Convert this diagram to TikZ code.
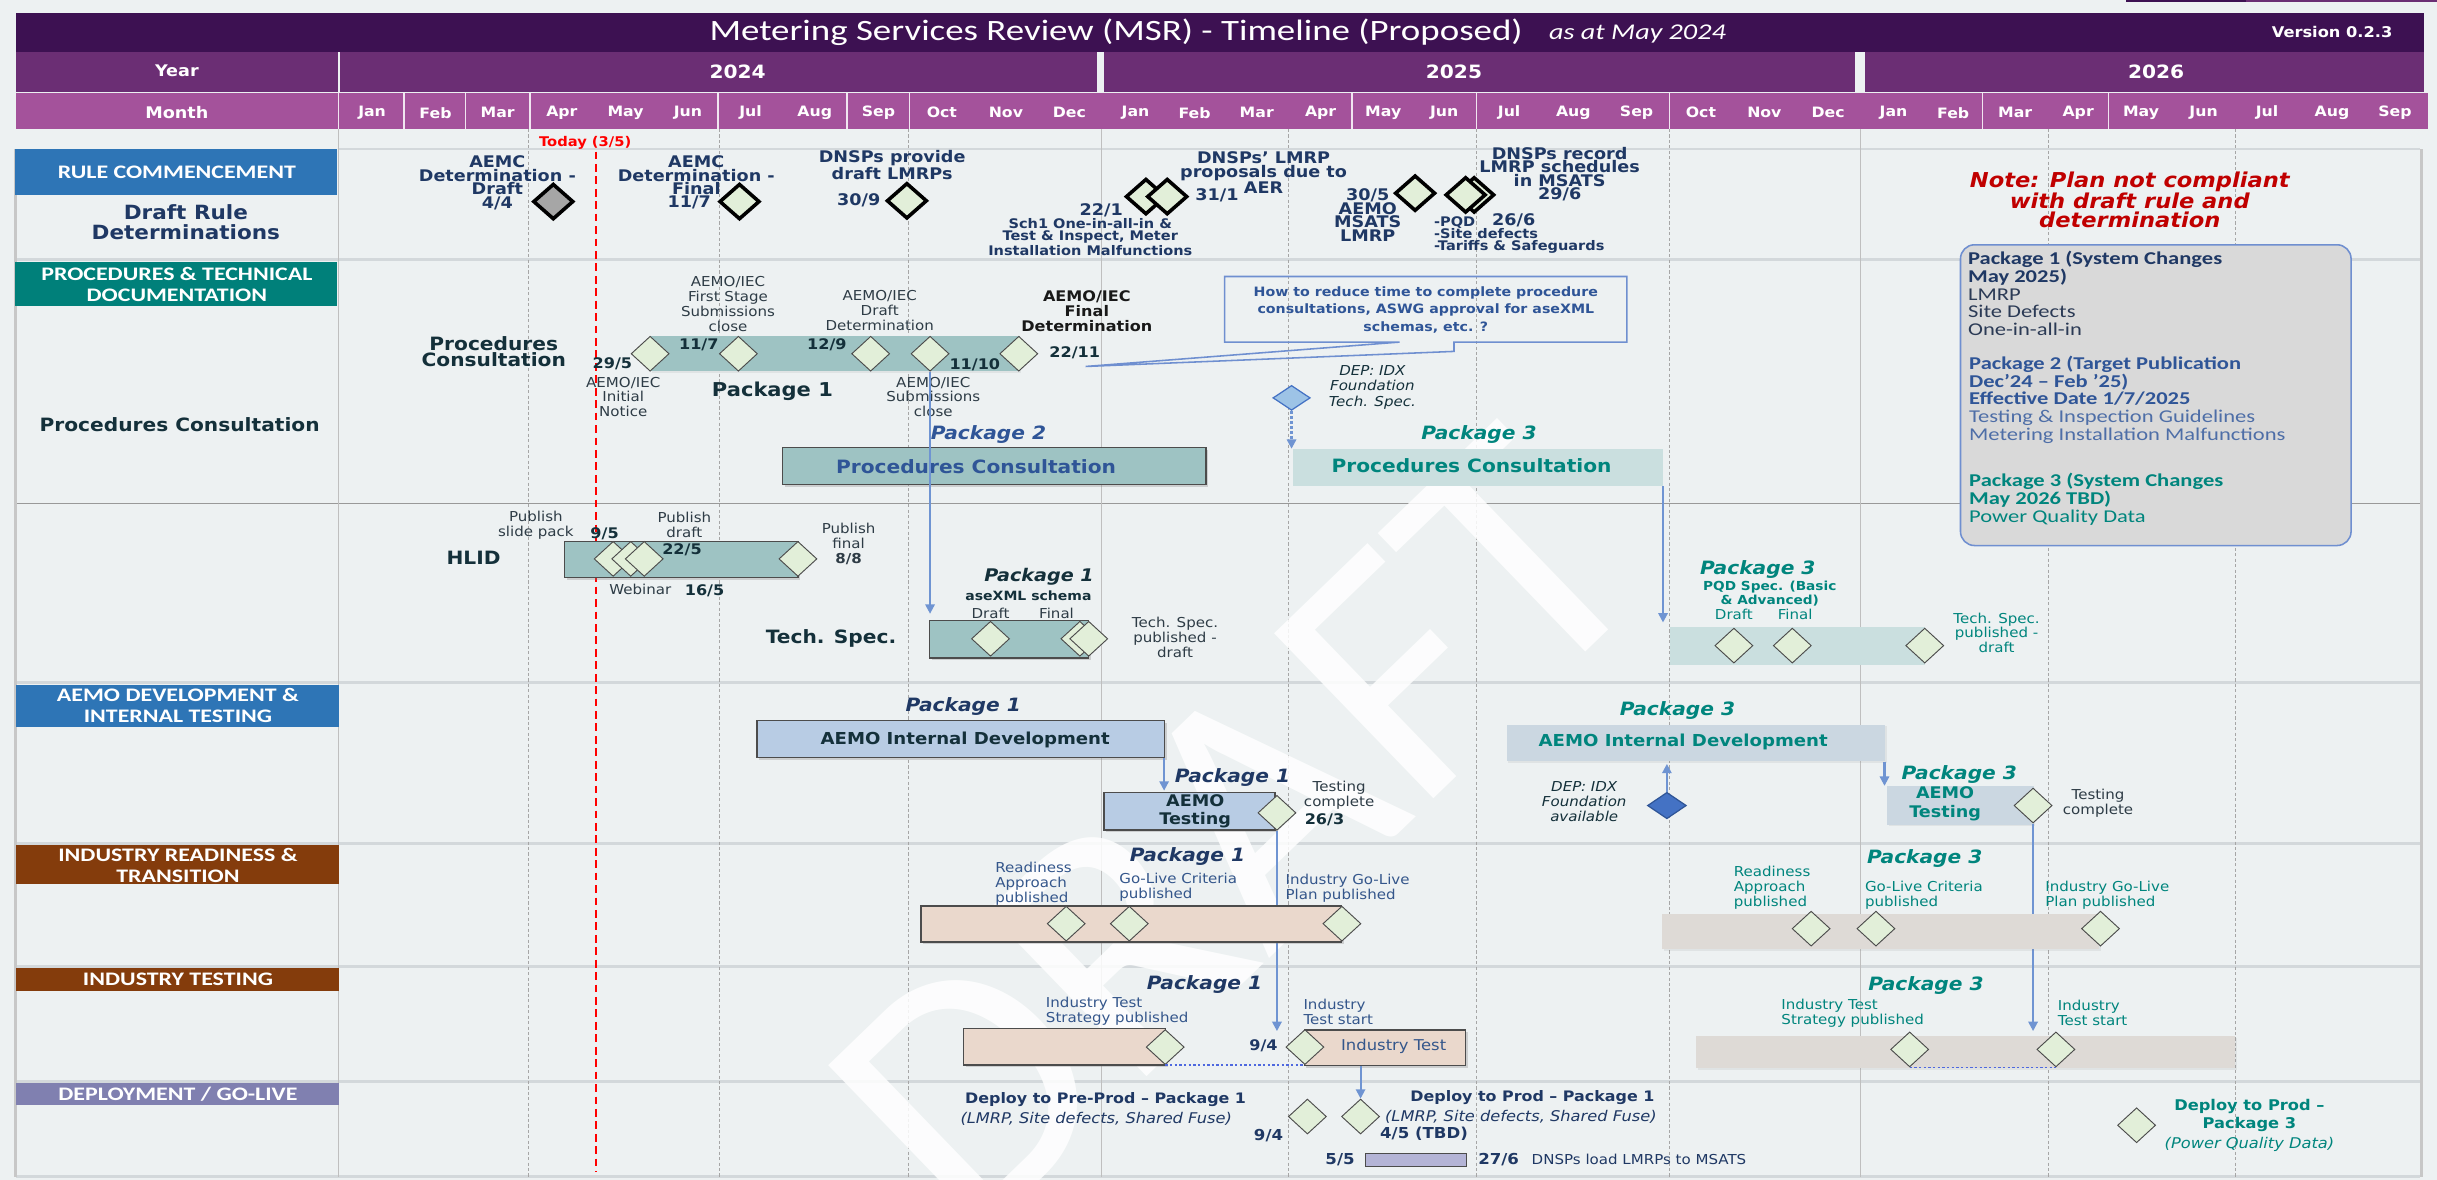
\documentclass[tikz,border=0pt]{standalone}
\usepackage{fontspec}
\setmainfont{DejaVu Sans}
\newfontfamily\tah{DejaVu Sans}[FakeStretch=1.1]
\newfontfamily\clb{Carlito}[FakeStretch=1.25]
\newfontfamily\carl{Carlito}
\usetikzlibrary{shapes.geometric,arrows.meta,shadows}
\newcommand\fsz[2]{\fontsize{#1}{#2}\selectfont}
\definecolor{bg}{HTML}{EDF1F2}
\definecolor{titlec}{HTML}{3D1152}
\definecolor{yearc}{HTML}{6B2E74}
\definecolor{monthc}{HTML}{A4529B}
\definecolor{rcblue}{HTML}{2E75B6}
\definecolor{tealh}{HTML}{00807A}
\definecolor{brownh}{HTML}{843C0C}
\definecolor{deph}{HTML}{8080B0}
\definecolor{navy}{HTML}{1F3864}
\definecolor{dk}{HTML}{14303A}
\definecolor{lblc}{HTML}{2E3C46}
\definecolor{msfill}{HTML}{E2EFD9}
\definecolor{barteal}{HTML}{9EC3C3}
\definecolor{barteal3}{HTML}{CADFDF}
\definecolor{barblue}{HTML}{B8CCE4}
\definecolor{barblue3}{HTML}{CBD7E1}
\definecolor{peach}{HTML}{EAD8CC}
\definecolor{beige3}{HTML}{DEDAD6}
\definecolor{arrowc}{HTML}{6F94D2}
\definecolor{pkgblue}{HTML}{2F5597}
\definecolor{steel}{HTML}{34568B}
\definecolor{tealt}{HTML}{00857D}
\definecolor{notered}{HTML}{C00000}
\definecolor{lav}{HTML}{B4B4D6}
\definecolor{sepc}{HTML}{D3D8DB}
\definecolor{boxgray}{HTML}{D9D9D9}
\definecolor{boxborder}{HTML}{6F8FD0}
\definecolor{depblue}{HTML}{9DC3E6}
\definecolor{depdark}{HTML}{4472C4}
\definecolor{regtxt}{HTML}{2B3A55}
\begin{document}
\begin{tikzpicture}[x=1pt,y=-1pt,
 tx/.style={inner sep=0pt, outer sep=0pt, align=center},
 hdr/.style={tx, text=white, font=\clb\bfseries\fsz{12.3}{13.3}},
 mon/.style={tx, text=white, font=\tah\bfseries\fsz{9.2}{9.5}},
 yr/.style={tx, text=white, font=\tah\bfseries\fsz{11.8}{12}},
 rc/.style={tx, text=navy, font=\tah\bfseries\fsz{10.3}{8.7}},
 rcs/.style={tx, text=navy, font=\tah\bfseries\fsz{8.5}{7.9}},
 lab/.style={tx, text=lblc, font=\tah\fsz{8.8}{9.6}},
 dte/.style={tx, text=dk, font=\tah\bfseries\fsz{9.4}{9.8}},
 bigl/.style={tx, text=dk, font=\tah\bfseries\fsz{11.8}{10.7}},
 pkg/.style={tx, font=\tah\bfseries\itshape\fsz{11.8}{12}},
 stl/.style={tx, text=steel, font=\tah\fsz{8.8}{9.6}, align=left, anchor=west},
 ms/.style={diamond, draw=black!70, line width=0.6pt, fill=msfill, minimum width=24.5pt, minimum height=22.5pt, inner sep=0pt},
 msb/.style={ms, draw=black, line width=2.3pt, minimum width=26pt, minimum height=23pt},
 barP/.style n args={3}{rectangle, fill=#1, minimum width=#2, minimum height=#3, inner sep=0pt},
 brd/.style={draw=black!70, line width=0.8pt, drop shadow={shadow xshift=1.5pt, shadow yshift=-1.5pt, opacity=0.3}},
 soft/.style={drop shadow={shadow xshift=1.2pt, shadow yshift=-1.2pt, opacity=0.12}},
 arr/.style={draw=arrowc, line width=1.3pt, -{Triangle[length=6pt,width=6pt]}},
 dott/.style={draw=arrowc!70!blue, line width=1pt, dash pattern=on 1.5pt off 1.5pt},
 gridd/.style={draw=black!35, line width=0.5pt, dash pattern=on 2pt off 1.5pt},
 grids/.style={draw=black!25, line width=0.8pt},
 sepl/.style={draw=sepc, line width=2pt},
]
\useasboundingbox (0,0) rectangle (1568,759);
\fill[bg] (0,0) rectangle (1568,759);
\fill[titlec] (1367.7,0) rectangle (1445,1.2);
\fill[yearc] (1445,0) rectangle (1568,1.2);
% ---------- header ----------
\fill[titlec] (10,8.1) rectangle (1559.7,33.2);
\fill[yearc] (10,33.6) rectangle (217.3,59);
\fill[yearc] (218.7,33.6) rectangle (706,59);
\fill[yearc] (710.5,33.6) rectangle (1193.5,59);
\fill[yearc] (1199.7,33.6) rectangle (1559.7,59);
\fill[monthc] (10,60) rectangle (1562,83);
\foreach \x in {217.8,260,299.6,341,462,545,585,870,950,1074,1275.5,1356.5}
  \draw[white!85!monthc, line width=0.9pt] (\x,60) -- (\x,83);
\node[tx, text=white, font=\clb\fsz{19}{20}, anchor=west] (title) at (456.5,20.8) {Metering Services Review (MSR) - Timeline (Proposed)};
\node[tx, text=white, font=\clb\itshape\fsz{14.5}{15}, anchor=west] (subt) at (996.7,21.6) {as at May 2024};
\node[tx, text=white, font=\tah\bfseries\fsz{9.5}{10}] (ver) at (1500.5,20.8) {Version 0.2.3};
\node[yr, font=\tah\bfseries\fsz{10.3}{11}] (year) at (113.8,45.4) {Year};
\node[yr] (y24) at (474.6,46) {2024};
\node[yr] (y25) at (935.5,46) {2025};
\node[yr] (y26) at (1387.3,46) {2026};
\node[yr, font=\tah\bfseries\fsz{10.3}{11}] (month) at (113.8,72.5) {Month};
\foreach \m/\x [count=\i] in {Jan/239.4,Feb/280.2,Mar/320.2,Apr/361.5,May/402.5,Jun/442.6,Jul/482.9,Aug/524.2,Sep/565.2,Oct/606,Nov/647.2,Dec/688,Jan/730.6,Feb/768.6,Mar/808.6,Apr/849.7,May/890,Jun/929.2,Jul/971,Aug/1012.3,Sep/1053,Oct/1094.4,Nov/1135.2,Dec/1176.2,Jan/1218.3,Feb/1256.7,Mar/1296.6,Apr/1337.1,May/1377.6,Jun/1417.8,Jul/1458.6,Aug/1500.4,Sep/1540.9}
  \node[mon] (mo\i) at (\x,72.5) {\m};
% ---------- grid ----------
\draw[sepc, line width=1pt] (218,96) -- (1557,96);
\foreach \y in {167,439,542.8,621.6,696,757} \draw[sepl] (10,\y) -- (1557,\y);
\draw[black!40, line width=0.8pt] (10,324) -- (1557,324);
\foreach \x in {340,462.6,584.5,829,950,1074,1317.8,1438.4} \draw[gridd] (\x,83) -- (\x,757);
\foreach \x in {218,708.6,1197.2} \draw[grids] (\x,83) -- (\x,757);
\draw[black!22, line width=2pt] (10,96) -- (10,757);
\draw[black!22, line width=2.5pt] (1558,96) -- (1558,757);
% watermark
\node[tx, rotate=44, text=white, opacity=0.85, font=\carl\fsz{230}{230}] (wm) at (795,535) {DRAFT};
% ---------- left headers ----------
\fill[rcblue] (9.5,96) rectangle (217,125.5);
\node[hdr] (h1) at (113.8,110.8) {RULE COMMENCEMENT};
\node[tx, text=navy, font=\tah\bfseries\fsz{12.6}{13.1}] (h1s) at (119.6,142.8) {Draft Rule\\Determinations};
\fill[tealh] (9.5,168.6) rectangle (217,197.2);
\node[hdr] (h2) at (113.8,182.9) {PROCEDURES \& TECHNICAL\\DOCUMENTATION};
\node[bigl] (h2s) at (115.6,273.3) {Procedures Consultation};
\fill[rcblue] (10,440.5) rectangle (218,467.5);
\node[hdr] (h3) at (114.5,453.9) {AEMO DEVELOPMENT \&\\INTERNAL TESTING};
\fill[brownh] (10,544) rectangle (218,569);
\node[hdr] (h4) at (114.5,556.8) {INDUSTRY READINESS \&\\TRANSITION};
\fill[brownh] (10,622.5) rectangle (218,637.8);
\node[hdr] (h5) at (114.5,630.1) {INDUSTRY TESTING};
\fill[deph] (10,697) rectangle (218,711);
\node[hdr] (h6) at (114.5,704.1) {DEPLOYMENT / GO-LIVE};
% ---------- today ----------
\draw[red, line width=1pt, dash pattern=on 5pt off 3pt] (383.5,97.5) -- (383.5,754);
\node[tx, text=red, font=\tah\bfseries\fsz{8.6}{9}] (today) at (376.5,92) {Today (3/5)};
% ---------- section 1 ----------
\node[msb, fill=black!35] (r1) at (356,129.7) {};
\node[msb] (r2) at (475.8,129.7) {};
\node[msb] (r3) at (583.5,129.2) {};
\node[msb] (r4a) at (737.3,126.5) {};
\node[msb] (r4b) at (751,126.5) {};
\node[msb] (r5) at (910.5,124.3) {};
\node[msb] (r6b) at (948.5,125.4) {};
\node[msb] (r6a) at (943,125.4) {};
\node[rc] (rt1) at (320,117.5) {AEMC\\Determination -\\Draft\\4/4};
\node[rc] (rt2) at (448,112.8) {AEMC\\Determination -\\Final};
\node[rc] (rt2d) at (443.5,130.5) {11/7};
\node[rc] (rt3) at (574,106.3) {DNSPs provide\\draft LMRPs};
\node[rc] (rt3d) at (552.5,128.6) {30/9};
\node[rc] (rt4d) at (708.6,135.5) {22/1};
\node[rcs] (rt4) at (701.5,152.5) {Sch1 One-in-all-in \&\\Test \& Inspect, Meter\\Installation Malfunctions};
\node[rc] (rt5) at (813,111.2) {DNSPs’ LMRP\\proposals due to\\AER};
\node[rc] (rt5d) at (783,125.5) {31/1};
\node[rc] (rt6d) at (880,125.4) {30/5};
\node[rc] (rt6) at (880,142.8) {AEMO\\MSATS\\LMRP};
\node[rc] (rt7) at (1003.5,112) {DNSPs record\\LMRP schedules\\in MSATS\\29/6};
\node[rc] (rt7d) at (974,142) {26/6};
\node[rcs, align=left, anchor=west] (rt8) at (922.7,151.3) {-PQD\\-Site defects\\-Tariffs \& Safeguards};
\node[tx, text=notered, font=\tah\bfseries\itshape\fsz{13.2}{12}] (note) at (1370.3,128.4) {Note: Plan not compliant\\with draft rule and\\determination};
% package box
\node[rectangle, rounded corners=9pt, fill=boxgray, draw=boxborder, line width=1pt, minimum width=251.3, minimum height=193.5, inner sep=0pt] (pbox) at (1387.05,254.25) {};
\node[tx, align=left, anchor=west, font=\clb\fsz{11.6}{11.4}, text=regtxt] (pb1) at (1266.3,188.8) {\textcolor{navy}{\bfseries Package 1 (System Changes}\\\textcolor{navy}{\bfseries May 2025)}\\LMRP\\Site Defects\\One-in-all-in};
\node[tx, align=left, anchor=west, font=\clb\fsz{11.6}{11.4}, text=pkgblue!85!white] (pb2) at (1267,257.1) {\textcolor{pkgblue}{\bfseries Package 2 (Target Publication}\\\textcolor{pkgblue}{\bfseries Dec’24 – Feb ’25)}\\\textcolor{pkgblue}{\bfseries Effective Date 1/7/2025}\\Testing \& Inspection Guidelines\\Metering Installation Malfunctions};
\node[tx, align=left, anchor=west, font=\clb\fsz{11.6}{11.4}, text=tealt] (pb3) at (1267,321.2) {{\bfseries Package 3 (System Changes}\\{\bfseries May 2026 TBD)}\\Power Quality Data};
% ---------- section 2 ----------
\node[bigl] (pcl) at (317.7,226.2) {Procedures\\Consultation};
\node[barP={barteal}{238}{23}, soft] (pc1) at (537,227.5) {};
\node[ms] (pd1) at (418.3,227.6) {};
\node[ms] (pd2) at (475.1,227.6) {};
\node[ms] (pd3) at (560.2,227.6) {};
\node[ms] (pd4) at (598.4,227.6) {};
\node[ms] (pd5) at (655.5,227.6) {};
\node[dte] (pt1d) at (394,234) {29/5};
\node[lab] (pt1) at (401,255.4) {AEMO/IEC\\Initial\\Notice};
\node[lab] (pt2) at (468.4,195.5) {AEMO/IEC\\First Stage\\Submissions\\close};
\node[dte] (pt2d) at (449.6,221.8) {11/7};
\node[lab] (pt3) at (566,199.6) {AEMO/IEC\\Draft\\Determination};
\node[dte] (pt3d) at (532,221.8) {12/9};
\node[dte] (pt4d) at (627.2,234.7) {11/10};
\node[lab] (pt4) at (600.5,255.4) {AEMO/IEC\\Submissions\\close};
\node[dte, text=black!90] (pt5) at (699.3,200.2) {AEMO/IEC\\Final\\Determination};
\node[dte] (pt5d) at (691.5,226.8) {22/11};
\node[bigl, font=\tah\bfseries\fsz{12.3}{12}] (pk1a) at (497,251.9) {Package 1};
% callout
\draw[boxborder, line width=1pt] (787.9,177.9) -- (1046.8,177.9) -- (1046.8,220.1) -- (935.5,220.1) -- (935.5,226.1) -- (698.5,235.8) -- (900.5,220.1) -- (787.9,220.1) -- cycle;
\node[tx, text=pkgblue, font=\tah\bfseries\fsz{8.3}{11.3}] (callout) at (917.4,199.3) {How to reduce time to complete procedure\\consultations, ASWG approval for aseXML\\schemas, etc. ?};
\node[diamond, fill=depblue, draw=depdark, line width=0.8pt, minimum width=24pt, minimum height=16pt, inner sep=0pt] (dep1) at (831,256) {};
\node[tx, text=dk, font=\tah\itshape\fsz{8.8}{10}] (dep1t) at (883,249) {DEP: IDX\\Foundation\\Tech. Spec.};
\node[barP={barteal}{272.6}{24.1}, brd] (pc2) at (639.7,299.85) {};
\node[tx, text=pkgblue, font=\tah\bfseries\fsz{11.8}{12}] (pc2t) at (628,300) {Procedures Consultation};
\node[pkg, text=pkgblue] (pk2) at (636,279.7) {Package 2};
\node[barP={barteal3}{238.1}{23.6}] (pc3) at (950.75,300.7) {};
\node[tx, text=tealt, font=\tah\bfseries\fsz{11.8}{12}] (pc3t) at (946.8,299.6) {Procedures Consultation};
\node[pkg, text=tealt] (pk3a) at (951.6,279.7) {Package 3};
\draw[arrowc, line width=1.4pt, dash pattern=on 2pt off 1.2pt, -{Triangle[length=6pt,width=6pt]}] (dep1.south) -- (dep1.south |- pc3.north);
% ---------- section 3 ----------
\node[bigl] (hlid) at (304.7,359) {HLID};
\node[barP={barteal}{150.1}{23.1}, brd] (hb) at (438.35,359.85) {};
\node[ms] (hd1) at (394.5,359.6) {};
\node[ms] (hd2) at (405.8,359.6) {};
\node[ms] (hd3) at (414.5,359.6) {};
\node[ms] (hd4) at (513.4,359.6) {};
\node[lab] (ht1) at (344.8,337.7) {Publish\\slide pack};
\node[dte] (ht1d) at (389,343.4) {9/5};
\node[lab] (ht2) at (440.3,337.6) {Publish\\draft};
\node[dte] (ht2d) at (438.8,354) {22/5};
\node[lab] (ht3) at (412,379.4) {Webinar};
\node[dte] (ht3d) at (453.3,380) {16/5};
\node[lab] (ht4) at (546,349.85) {Publish\\final\\\textbf{8/8}};
\node[bigl] (tsl) at (534.7,411) {Tech. Spec.};
\node[barP={barteal}{102.5}{24}, brd] (ts1) at (649.25,411.3) {};
\node[ms] (td1) at (637.3,411) {};
\node[ms] (td2a) at (694.8,411) {};
\node[ms] (td2b) at (700.5,411) {};
\node[pkg, text=dk, font=\tah\bfseries\itshape\fsz{11.2}{12}] (pk1b) at (668.5,370.8) {Package 1};
\node[tx, text=dk, font=\tah\bfseries\fsz{8.2}{9}] (axs) at (661.7,383) {aseXML schema};
\node[lab] (tdr) at (637.3,394.8) {Draft};
\node[lab] (tfi) at (679.8,394.8) {Final};
\node[lab] (tsp) at (756,410.25) {Tech. Spec.\\published -\\draft};
\draw[arr] (pd4.south) -- ([yshift=4pt]pd4.south |- ts1.north);
\node[pkg, text=tealt] (pk3b) at (1131,366.5) {Package 3};
\node[tx, text=tealt, font=\tah\bfseries\fsz{8}{9.3}] (pqd) at (1138.7,381.85) {PQD Spec. (Basic\\\& Advanced)};
\node[barP={barteal3}{163.6}{24.4}] (ts3) at (1156.6,415.4) {};
\node[ms] (td3) at (1115.6,415.4) {};
\node[ms] (td4) at (1153.2,415.4) {};
\node[ms] (td5) at (1238.4,415.4) {};
\node[lab, text=tealt] (tdr3) at (1115.6,395.5) {Draft};
\node[lab, text=tealt] (tfi3) at (1155,395.5) {Final};
\node[lab, text=tealt, font=\tah\fsz{8.8}{9.35}] (tsp3) at (1284.6,407.15) {Tech. Spec.\\published -\\draft};
\draw[arr] (pc3.south east) -- ([yshift=2.5pt]pc3.south east |- ts3.north);
% ---------- section 4 ----------
\node[pkg, text=navy] (pk1c) at (619.7,454.8) {Package 1};
\node[barP={barblue}{262}{23.6}, brd] (dev1) at (618.1,475.4) {};
\node[tx, text=dk, font=\tah\bfseries\fsz{10.6}{11}] (dev1t) at (621,475.8) {AEMO Internal Development};
\node[pkg, text=navy] (pk1d) at (793,500) {Package 1};
\node[barP={barblue}{110.1}{24}, brd] (test1) at (765.35,522.1) {};
\node[tx, text=dk, font=\tah\bfseries\fsz{10.3}{11.2}] (test1t) at (769,522.1) {AEMO\\Testing};
\draw[arr] ([xshift=-0.5pt]dev1.south east) -- ([xshift=-0.5pt,yshift=1pt]dev1.south east |- test1.north);
\node[ms] (tc1) at (821.6,523) {};
\node[lab] (tc1t) at (861.6,511.7) {Testing\\complete};
\node[dte] (tc1d) at (852.2,527.7) {26/3};
\coordinate (it1top) at (821.6,663.4);
\draw[arr] (tc1.south) -- (it1top);
\node[pkg, text=tealt] (pk3c) at (1079.3,457) {Package 3};
\node[barP={barblue3}{243.5}{23.6}, soft] (dev3) at (1091.05,478) {};
\node[tx, text=tealt, font=\tah\bfseries\fsz{10.6}{11}] (dev3t) at (1083,477.5) {AEMO Internal Development};
\node[diamond, fill=depdark, draw=pkgblue, line width=0.8pt, minimum width=25pt, minimum height=17pt, inner sep=0pt] (depA) at (1072.5,518.3) {};
\node[tx, text=dk, font=\tah\itshape\fsz{8.8}{9.4}] (depAt) at (1019.3,515.7) {DEP: IDX\\Foundation\\available};
\draw[arr] (depA.north) -- ([yshift=-1.5pt]depA.north |- dev3.south);
\node[pkg, text=tealt] (pk3d) at (1260.6,498.3) {Package 3};
\node[barP={barblue3}{94}{24.7}, soft] (test3) at (1261.4,518.15) {};
\node[tx, text=tealt, font=\tah\bfseries\fsz{10.3}{11.8}] (test3t) at (1251.5,517.1) {AEMO\\Testing};
\draw[arr] ([xshift=-0.5pt]dev3.south east) -- ([xshift=-0.5pt]dev3.south east |- test3.north);
\node[ms] (tc3) at (1308.1,518.3) {};
\node[lab] (tc3t) at (1349.9,516.85) {Testing\\complete};
\coordinate (it3top) at (1308.1,663.4);
\draw[arr] (tc3.south) -- (it3top);
% ---------- section 5 ----------
\node[pkg, text=navy] (pk1e) at (764,551.3) {Package 1};
\node[barP={peach}{270.5}{23.1}, brd] (rd1) at (727.75,594.55) {};
\node[ms] (rd1a) at (686,594.3) {};
\node[ms] (rd1b) at (726.6,594.3) {};
\node[ms] (rd1c) at (863.4,594.3) {};
\node[stl] (rt1a) at (640.4,568.65) {Readiness\\Approach\\published};
\node[stl] (rt1b) at (720.2,570.65) {Go-Live Criteria\\published};
\node[stl] (rt1c) at (827.2,571.5) {Industry Go-Live\\Plan published};
\node[pkg, text=tealt] (pk3e) at (1238.4,552.6) {Package 3};
\node[barP={beige3}{281.4}{22.6}, soft] (rd3) at (1210,599.6) {};
\node[ms] (rd3a) at (1165.3,597.5) {};
\node[ms] (rd3b) at (1207,597.5) {};
\node[ms] (rd3c) at (1351.5,597.5) {};
\node[stl, text=tealt] (rt3a) at (1115.6,571.2) {Readiness\\Approach\\published};
\node[stl, text=tealt] (rt3b) at (1200,576) {Go-Live Criteria\\published};
\node[stl, text=tealt] (rt3c) at (1316,576) {Industry Go-Live\\Plan published};
% ---------- section 6 ----------
\node[pkg, text=navy] (pk1f) at (775,633.4) {Package 1};
\node[barP={peach}{129.8}{23.4}, brd] (its1) at (684.9,673.5) {};
\node[ms] (is1) at (749.7,673.7) {};
\node[stl] (its1t) at (673,650.6) {Industry Test\\Strategy published};
\node[dte, text=navy] (is2d) at (812.9,673) {9/4};
\node[barP={peach}{103.9}{22.7}, brd] (it1) at (891.05,674.05) {};
\node[tx, text=steel, font=\tah\fsz{9.6}{10}] (it1t) at (896.7,673) {Industry Test};
\node[ms] (is2) at (839.6,673.7) {};
\draw[dott] (is1.south) -- (is2.south);
\node[stl] (is2t) at (838.7,650.8) {Industry\\Test start};
\node[pkg, text=tealt] (pk3f) at (1239.2,633.8) {Package 3};
\node[barP={beige3}{346.8}{20.4}, soft] (it3) at (1264.8,676.8) {};
\node[ms] (is3a) at (1228.7,675.2) {};
\node[ms] (is3b) at (1322.8,675.2) {};
\draw[dott] (is3a.south) -- (is3b.south);
\node[stl, text=tealt] (is3at) at (1146.2,651.8) {Industry Test\\Strategy published};
\node[stl, text=tealt] (is3bt) at (1324.1,651.8) {Industry\\Test start};
% ---------- section 7 ----------
\node[tx, anchor=west, text=navy, font=\tah\bfseries\fsz{9.3}{10}] (dpt1) at (621,707.7) {Deploy to Pre-Prod – Package 1};
\node[tx, anchor=west, text=navy, font=\tah\itshape\fsz{9.5}{10}] (dpt1b) at (618,720.2) {(LMRP, Site defects, Shared Fuse)};
\node[ms] (dp1) at (841.2,718.4) {};
\node[dte, text=navy, font=\tah\bfseries\fsz{9.7}{10}] (dp1d) at (816.2,730.4) {9/4};
\node[ms] (dp2) at (875.4,718.4) {};
\draw[arr] (it1.south -| dp2) -- (dp2.north);
\node[tx, anchor=west, text=navy, font=\tah\bfseries\fsz{9.3}{10}] (dpt2) at (907.5,706.2) {Deploy to Prod – Package 1};
\node[tx, anchor=west, text=navy, font=\tah\itshape\fsz{9.5}{10}] (dpt2b) at (891.2,718.7) {(LMRP, Site defects, Shared Fuse)};
\node[tx, anchor=west, text=navy, font=\tah\bfseries\fsz{9.7}{10}] (dpt2d) at (888,729.4) {4/5 (TBD)};
\node[dte, text=navy, font=\tah\bfseries\fsz{9.7}{10}] (d55) at (862.2,745.9) {5/5};
\node[barP={lav}{65}{8.6}, draw=black!70, line width=0.7pt] (lmb) at (911.2,746.5) {};
\node[dte, text=navy, font=\tah\bfseries\fsz{9.7}{10}] (d276) at (964.2,745.9) {27/6};
\node[tx, anchor=west, text=navy, font=\tah\fsz{8.8}{9}] (dload) at (985.5,745.9) {DNSPs load LMRPs to MSATS};
\node[ms] (dp3) at (1374.7,724) {};
\node[tx, text=tealt, font=\tah\bfseries\fsz{9.5}{12.2}] (dpt3) at (1447.3,717.7) {Deploy to Prod –\\Package 3};
\node[tx, text=tealt, font=\tah\itshape\fsz{9.5}{10}] (dpt3b) at (1447.3,736.2) {(Power Quality Data)};
\end{tikzpicture}
\end{document}
